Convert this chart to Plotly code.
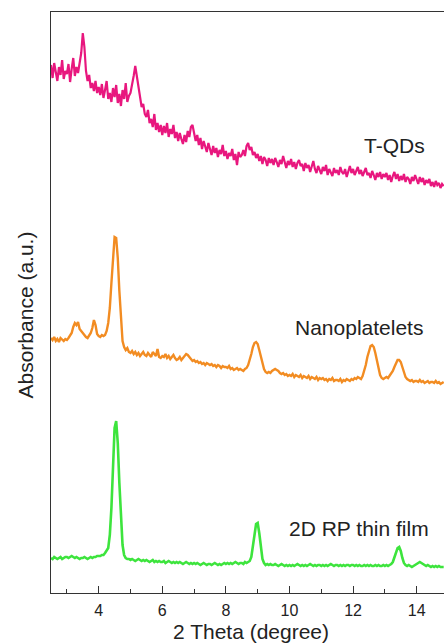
import plotly.graph_objects as go

# 2-theta sampling grid (degrees): 2.50 ... 14.85 in 0.05 steps
theta_start = 2.50
theta_step = 0.05
n_points = 248
two_theta = [round(theta_start + theta_step * i, 2) for i in range(n_points)]

# Absorbance (a.u.), offset traces; each row covers 0.5 degree
t_qds = [
    528, 515, 530, 520, 512, 526, 518, 533, 514, 522,
    519, 529, 511, 524, 535, 517, 526, 520, 531, 540,
    560, 546, 522, 512, 518, 505, 510, 502, 512, 500,
    506, 498, 509, 495, 503, 512, 494, 500, 491, 505,
    496, 508, 490, 499, 487, 503, 494, 510, 491, 497,
    500, 507, 517, 527, 516, 503, 495, 486, 489, 479,
    476, 483, 470, 474, 466, 479, 463, 470, 461, 468,
    458, 467, 460, 470, 456, 464, 459, 468, 455, 461,
    452, 460, 454, 449, 458, 451, 462, 456, 466, 468,
    460, 452, 458, 448, 455, 444, 452, 447, 441, 450,
    444, 438, 447, 440, 445, 436, 443, 439, 448, 437,
    442, 434, 440, 437, 444, 433, 439, 428, 441, 436,
    438, 443, 437, 447, 450, 443, 446, 438, 441, 435,
    439, 432, 437, 429, 436, 433, 427, 435, 430, 434,
    428, 435, 431, 426, 433, 429, 437, 430, 425, 432,
    428, 434, 426, 431, 424, 430, 433, 427, 429, 422,
    430, 425, 428, 421, 426, 432, 424, 420, 427, 423,
    419, 426, 422, 428, 418, 424, 421, 417, 425, 420,
    423, 418, 426, 421, 419, 424, 416, 422, 427, 420,
    424, 418, 422, 426, 419, 423, 417, 421, 425, 418,
    420, 415, 422, 418, 413, 420, 416, 421, 414, 419,
    416, 420, 413, 418, 411, 417, 421, 414, 419, 412,
    417, 413, 419, 411, 416, 414, 409, 416, 412, 418,
    413, 409, 416, 411, 415, 408, 413, 410, 414, 407,
    411, 406, 412, 408, 410, 405, 409, 407,
]

nanoplatelets = [
    255, 253, 256, 252, 254, 251, 255, 253, 252, 254,
    253, 255, 257, 260, 266, 270, 268, 271, 264, 262,
    260, 257, 256, 255, 257, 260, 265, 273, 268, 259,
    257, 256, 258, 257, 258, 262, 270, 285, 310, 338,
    356, 355, 335, 302, 270, 252, 246, 243, 245, 241,
    240, 242, 239, 241, 238, 240, 237, 239, 241, 238,
    237, 240, 238, 236, 241, 239, 237, 244, 236, 235,
    237, 236, 239, 235, 237, 234, 236, 238, 235, 233,
    234, 236, 233, 235, 237, 239, 238, 236, 233, 232,
    233, 231, 232, 230, 231, 229, 230, 228, 230, 229,
    228, 229, 227, 228, 226, 228, 227, 225, 227, 226,
    226, 225, 227, 224, 225, 223, 224, 225, 223, 224,
    223, 222, 224, 225, 228, 233, 239, 246, 250, 251,
    249, 243, 236, 229, 224, 221, 220, 221, 220, 222,
    223, 224, 223, 222, 220, 219, 220, 218, 219, 217,
    218, 217, 219, 216, 218, 217, 216, 218, 215, 217,
    216, 215, 217, 214, 216, 215, 214, 216, 213, 215,
    214, 215, 213, 214, 212, 214, 213, 215, 212, 213,
    213, 212, 214, 211, 213, 212, 214, 213, 212, 214,
    213, 215, 214, 216, 215, 214, 217, 222, 228, 236,
    243, 247, 248, 246, 240, 232, 224, 218, 215, 214,
    215, 216, 215, 217, 219, 222, 226, 230, 233, 233,
    231, 226, 220, 216, 214, 213, 212, 213, 211, 212,
    212, 211, 213, 211, 212, 210, 211, 212, 210, 211,
    211, 210, 212, 210, 211, 209, 210, 211,
]

rp_thin_film = [
    35, 34, 36, 35, 34, 35, 36, 34, 35, 36,
    36, 35, 36, 37, 36, 35, 36, 35, 34, 35,
    35, 36, 35, 34, 35, 36, 35, 36, 36, 37,
    37, 37, 38, 38, 40, 42, 45, 58, 85, 125,
    165, 172, 150, 110, 72, 48, 38, 35, 34, 34,
    33, 34, 33, 32, 33, 34, 33, 32, 33, 32,
    33, 32, 31, 32, 33, 31, 32, 31, 32, 31,
    31, 32, 30, 31, 32, 31, 30, 31, 30, 31,
    30, 31, 30, 29, 30, 31, 30, 29, 30, 29,
    30, 29, 30, 29, 28, 29, 30, 29, 28, 29,
    29, 28, 29, 30, 29, 28, 29, 28, 29, 30,
    29, 30, 29, 30, 29, 30, 31, 30, 29, 30,
    30, 29, 31, 30, 31, 32, 36, 45, 58, 69,
    70, 60, 45, 34, 30, 28, 29, 28, 29, 28,
    28, 29, 28, 27, 28, 29, 28, 27, 28, 27,
    28, 27, 28, 27, 28, 29, 28, 27, 28, 27,
    28, 27, 28, 29, 28, 27, 28, 27, 28, 28,
    27, 28, 27, 28, 27, 28, 29, 28, 27, 28,
    28, 27, 28, 27, 28, 27, 28, 28, 27, 28,
    28, 27, 28, 27, 28, 27, 27, 28, 27, 28,
    27, 28, 27, 27, 28, 27, 28, 27, 27, 28,
    27, 28, 27, 28, 29, 31, 35, 41, 45, 46,
    42, 35, 30, 28, 27, 28, 27, 26, 27, 28,
    29, 30, 31, 30, 29, 28, 27, 28, 27, 26,
    27, 26, 27, 26, 27, 26, 26, 26,
]

series = [
    ("T-QDs", t_qds, "#e8177e", 2.2),
    ("Nanoplatelets", nanoplatelets, "#f28c22", 2.4),
    ("2D RP thin film", rp_thin_film, "#3de43d", 2.6),
]

# label anchor positions (2-theta, absorbance)
label_pos = {
    "T-QDs": (13.3, 448),
    "Nanoplatelets": (12.2, 266),
    "2D RP thin film": (12.2, 65),
}

text_font = "Liberation Sans, Arial, sans-serif"
text_color = "#222222"

fig = go.Figure()
for name, values, color, width in series:
    fig.add_trace(go.Scatter(
        x=two_theta, y=values, mode="lines", name=name,
        line=dict(color=color, width=width), showlegend=False,
    ))
    lx, ly = label_pos[name]
    fig.add_annotation(
        x=lx, y=ly, text=name, showarrow=False,
        font=dict(family=text_font, size=21, color=text_color),
        xanchor="center", yanchor="middle",
    )

# axis titles
fig.add_annotation(
    xref="paper", yref="paper", x=0, y=0.5, xshift=-26, yshift=-13,
    text="Absorbance (a.u.)", textangle=-90, showarrow=False,
    font=dict(family=text_font, size=21, color=text_color),
    xanchor="center", yanchor="middle",
)
fig.add_annotation(
    xref="paper", yref="paper", x=0.51, y=0, yshift=-38,
    text="2 Theta (degree)", showarrow=False,
    font=dict(family=text_font, size=21, color=text_color),
    xanchor="center", yanchor="middle",
)

fig.update_xaxes(
    range=[2.5, 14.86],
    tick0=0, dtick=2,
    ticks="inside", ticklen=7, tickwidth=1.2, tickcolor="#333333",
    minor=dict(ticks="inside", ticklen=4, tickwidth=1.2, dtick=1, tick0=0, tickcolor="#333333"),
    showline=True, linecolor="#333333", linewidth=1.3, mirror=True,
    showgrid=False, zeroline=False,
    tickfont=dict(family=text_font, size=16, color=text_color),
    ticklabelstandoff=3,
)
fig.update_yaxes(
    range=[0, 581],
    showticklabels=False, ticks="",
    showline=True, linecolor="#333333", linewidth=1.3, mirror=False,
    showgrid=False, zeroline=False,
)

fig.update_layout(
    width=444, height=643,
    margin=dict(l=51, r=0, t=12, b=50),
    paper_bgcolor="white", plot_bgcolor="white",
)

fig.write_html("out.html")
